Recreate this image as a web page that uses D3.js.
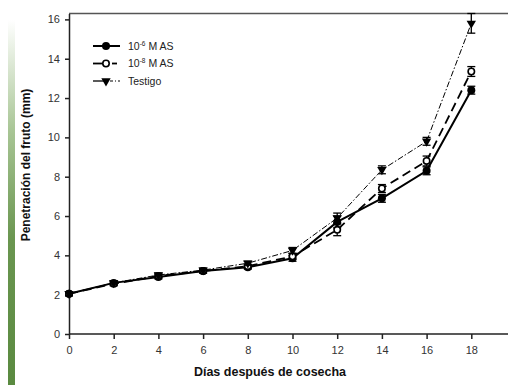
<!DOCTYPE html>
<html><head><meta charset="utf-8">
<script src="https://cdn.jsdelivr.net/npm/d3@7"></script>
<style>body{margin:0;background:#fff}svg{display:block;font-family:"Liberation Sans",Arial,sans-serif}</style>
</head><body><svg id="c" width="508" height="385"></svg>
<script>
const days = [0,2,4,6,8,10,12,14,16,18];
const xTicks = [0,2,4,6,8,10,12,14,16,18];
const yTicks = [0,2,4,6,8,10,12,14,16];
const s6 = [2.05,2.6,2.9,3.2,3.4,3.85,5.7,6.9,8.3,12.4];
const e6 = [0.1,0.1,0.1,0.1,0.1,0.15,0.3,0.2,0.2,0.2];
const s8 = [2.05,2.55,2.95,3.2,3.45,3.95,5.3,7.4,8.8,13.35];
const e8 = [0.1,0.1,0.1,0.1,0.1,0.15,0.3,0.2,0.25,0.25];
const sT = [2.05,2.6,3.0,3.25,3.6,4.25,5.9,8.35,9.8,15.8];
const eT = [0.1,0.1,0.1,0.1,0.1,0.15,0.25,0.2,0.2,0.5];
const names = ["-6","-8","Testigo"];

const svg = d3.select("#c");
const x = d3.scaleLinear().domain([0,20]).range([69,516]);
const y = d3.scaleLinear().domain([0,16.3]).range([334,13.5]);

const defs = svg.append("defs");
const g = defs.append("linearGradient").attr("id","gb").attr("x1",0).attr("x2",0).attr("y1",0).attr("y2",1);
g.append("stop").attr("offset","0%").attr("stop-color","#ffffff");
g.append("stop").attr("offset","30%").attr("stop-color","#a9c696");
g.append("stop").attr("offset","60%").attr("stop-color","#6a9650");
g.append("stop").attr("offset","100%").attr("stop-color","#5a8a40");
svg.append("rect").attr("x",8).attr("y",20).attr("width",7).attr("height",365).attr("fill","url(#gb)");

svg.append("line").attr("x1",69).attr("x2",508).attr("y1",13.5).attr("y2",13.5).attr("stroke","#555").attr("stroke-width",1.6);

const xa = svg.append("g").attr("transform","translate(0,334)")
  .call(d3.axisBottom(x).tickValues(xTicks).tickSize(5).tickSizeOuter(0).tickPadding(7));
const ya = svg.append("g").attr("transform","translate(69,0)")
  .call(d3.axisLeft(y).tickValues(yTicks).tickSize(4).tickSizeOuter(0).tickPadding(5));
[xa,ya].forEach(a=>{
  a.select(".domain").attr("stroke","#222").attr("stroke-width",1.5);
  a.selectAll(".tick line").attr("stroke","#222").attr("stroke-width",1.5);
  a.selectAll(".tick text").attr("fill","#333").style("font-size","11px");
});
xa.select(".domain").attr("d","M69,0H508");

const series = [
  {v:s6,e:e6,dash:null,w:2,mk:"fc"},
  {v:s8,e:e8,dash:"9,5",w:1.8,mk:"oc"},
  {v:sT,e:eT,dash:"6,2,1.5,2",w:1,mk:"tri"}
];
const line = d3.line().x((d,i)=>x(days[i])).y(d=>y(d));
series.forEach(s=>{
  svg.append("path").attr("d",line(s.v)).attr("fill","none").attr("stroke","#000")
    .attr("stroke-width",s.w).attr("stroke-dasharray",s.dash);
});
function marker(sel,type,cx,cy){
  if(type==="fc") sel.append("circle").attr("cx",cx).attr("cy",cy).attr("r",4).attr("fill","#000");
  else if(type==="oc") sel.append("circle").attr("cx",cx).attr("cy",cy).attr("r",3.2).attr("fill","#fff").attr("stroke","#000").attr("stroke-width",1.6);
  else sel.append("path").attr("d",d3.symbol(d3.symbolTriangle,38)()).attr("transform",`translate(${cx},${cy}) rotate(180)`).attr("fill","#000");
}
series.forEach(s=>{
  const gg = svg.append("g");
  s.v.forEach((v,i)=>{
    const cx=x(days[i]);
    const t=y(v+s.e[i]), b=y(v-s.e[i]);
    gg.append("line").attr("x1",cx).attr("x2",cx).attr("y1",t).attr("y2",b).attr("stroke","#000").attr("stroke-width",1.3);
    [t,b].forEach(yy=>gg.append("line").attr("x1",cx-4).attr("x2",cx+4).attr("y1",yy).attr("y2",yy).attr("stroke","#000").attr("stroke-width",1.3));
    marker(gg,s.mk,cx,y(v));
  });
});

const lg = svg.append("g");
const rows=[46,63.5,81];
rows.forEach((ry,i)=>{
  const s=series[i];
  if(i===0) lg.append("line").attr("x1",93).attr("x2",120).attr("y1",ry).attr("y2",ry).attr("stroke","#000").attr("stroke-width",2);
  else if(i===1){
    lg.append("line").attr("x1",93).attr("x2",104).attr("y1",ry).attr("y2",ry).attr("stroke","#000").attr("stroke-width",1.8);
    lg.append("line").attr("x1",112).attr("x2",117).attr("y1",ry).attr("y2",ry).attr("stroke","#000").attr("stroke-width",1.8);
  } else {
    lg.append("line").attr("x1",93).attr("x2",104).attr("y1",ry).attr("y2",ry).attr("stroke","#000").attr("stroke-width",1.3);
    lg.append("line").attr("x1",110).attr("x2",120).attr("y1",ry).attr("y2",ry).attr("stroke","#000").attr("stroke-width",1).attr("stroke-dasharray","3,2,1,2");
  }
  marker(lg,s.mk,106,ry);
  const t = lg.append("text").attr("x",128).attr("y",ry+3.8).style("font-size","10.5px").attr("fill","#222");
  if(i<2){
    t.append("tspan").text("10");
    t.append("tspan").text(names[i]).style("font-size","6.5px").attr("dy",-4);
    t.append("tspan").text(" M AS").attr("dy",4);
  } else t.text(names[i]);
});

svg.append("text").attr("x",270).attr("y",376).attr("text-anchor","middle")
  .style("font-size","12.5px").style("font-weight","bold").attr("fill","#111").text("Días después de cosecha");
svg.append("text").attr("transform","translate(30,165) rotate(-90)").attr("text-anchor","middle")
  .style("font-size","12px").style("font-weight","bold").attr("fill","#111").text("Penetración del fruto (mm)");
</script></body></html>
